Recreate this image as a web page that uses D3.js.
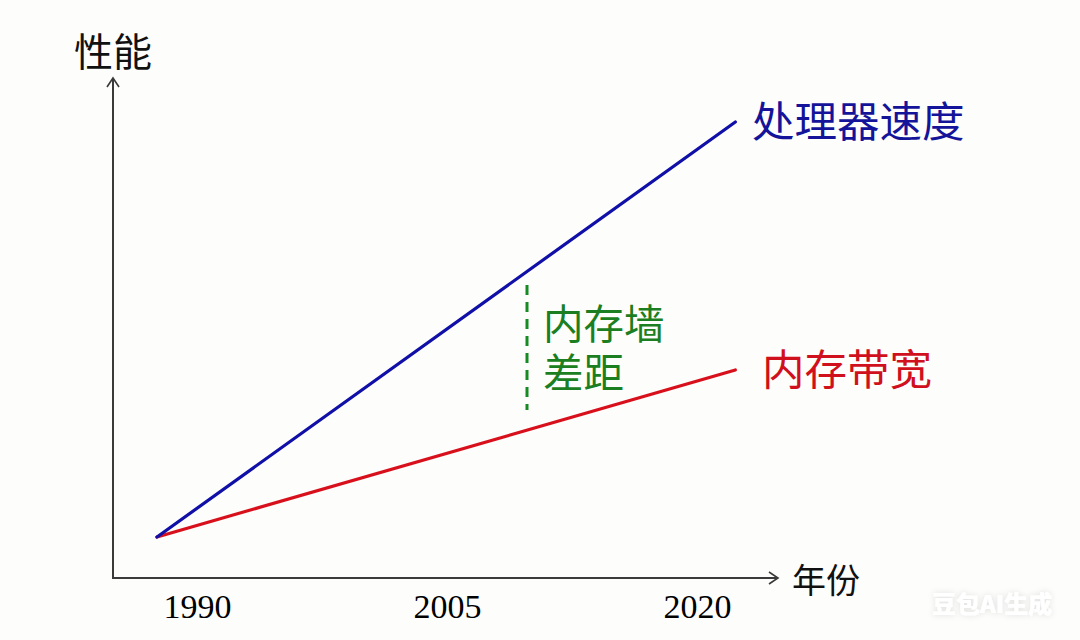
<!DOCTYPE html>
<html><head><meta charset="utf-8">
<script src="https://cdn.jsdelivr.net/npm/d3@7"></script>
<style>
html,body{margin:0;padding:0;background:#fdfdfb;}
svg{display:block;}
</style></head>
<body><svg id="c" width="1080" height="640"></svg>
<script>
// Data
const tickYears = [1990, 2005, 2020];
const tickLabels = ["1990", "2005", "2020"];
const lineYears = [1987.6, 2022.3];
const cpuSpeed = [8.2, 91.2];
const memBandwidth = [8.2, 41.6];
const gapYear = 2009.8;
const gapRange = [33.6, 58.6];
const seriesNames = ["处理器速度", "内存带宽"];
const gapLabel = ["内存墙", "差距"];
const axisTitles = {y: "性能", x: "年份"};

const svg = d3.select("#c");
const W = 1080, H = 640;
const x = d3.scaleLinear().domain([1990, 2020]).range([197, 697]);
const y = d3.scaleLinear().domain([0, 100]).range([578, 78]);
const x0 = 113, y0 = 578, xEnd = 778, yTop = 78;
const cjk = "'Noto Sans CJK SC', 'Noto Sans', sans-serif";

svg.append("rect").attr("width", W).attr("height", H).attr("fill", "#fdfdfb");

// Axes
const axisColor = "#3a3a3a";
svg.append("line").attr("x1", x0).attr("y1", y0).attr("x2", x0).attr("y2", yTop)
  .attr("stroke", axisColor).attr("stroke-width", 2);
svg.append("line").attr("x1", x0 - 1).attr("y1", y0).attr("x2", xEnd).attr("y2", y0)
  .attr("stroke", axisColor).attr("stroke-width", 2);
svg.append("path").attr("d", `M${x0-6},${yTop+9} L${x0},${yTop} L${x0+6},${yTop+9}`)
  .attr("fill", "none").attr("stroke", axisColor).attr("stroke-width", 1.6);
svg.append("path").attr("d", `M${xEnd-9},${y0-6} L${xEnd},${y0} L${xEnd-9},${y0+6}`)
  .attr("fill", "none").attr("stroke", axisColor).attr("stroke-width", 1.6);

// Tick labels
const xAxis = d3.axisBottom(x).tickValues(tickYears)
  .tickFormat((d, i) => tickLabels[i]).tickSize(0).tickPadding(0);
const gx = svg.append("g").attr("transform", `translate(0,${y0})`).call(xAxis);
gx.select(".domain").remove();
gx.selectAll("text").attr("font-family", "'Liberation Serif', 'DejaVu Serif', serif")
  .attr("font-size", 34).attr("fill", "#000").attr("dy", null).attr("y", 40);

// Axis titles
svg.append("text").attr("x", 113).attr("y", 66).attr("text-anchor", "middle")
  .attr("font-family", cjk).attr("font-size", 39).attr("fill", "#111").text(axisTitles.y);
svg.append("text").attr("x", 792).attr("y", 593)
  .attr("font-family", cjk).attr("font-size", 34).attr("fill", "#111").text(axisTitles.x);

// Lines
const line = d3.line().x((d, i) => x(lineYears[i])).y(d => y(d));
svg.append("path").datum(memBandwidth).attr("d", line).attr("fill", "none")
  .attr("stroke", "#d8101c").attr("stroke-width", 3.2).attr("stroke-linecap", "round");
svg.append("path").datum(cpuSpeed).attr("d", line).attr("fill", "none")
  .attr("stroke", "#1010a8").attr("stroke-width", 3.2).attr("stroke-linecap", "round");

// Series labels
svg.append("text").attr("x", 752).attr("y", y(cpuSpeed[1]) + 15)
  .attr("font-family", cjk).attr("font-size", 42.5).attr("fill", "#14149a").text(seriesNames[0]);
svg.append("text").attr("x", 762).attr("y", y(memBandwidth[1]) + 15)
  .attr("font-family", cjk).attr("font-size", 42.5).attr("fill", "#d0101c").text(seriesNames[1]);

// Gap marker
svg.append("line").attr("x1", x(gapYear)).attr("x2", x(gapYear))
  .attr("y1", y(gapRange[1])).attr("y2", y(gapRange[0]))
  .attr("stroke", "#178a24").attr("stroke-width", 3).attr("stroke-dasharray", "10,7");
const gt = svg.append("text").attr("x", 543).attr("y", 339)
  .attr("font-family", cjk).attr("font-size", 40.5).attr("fill", "#1b7f22");
gt.selectAll("tspan").data(gapLabel).join("tspan")
  .attr("x", 543).attr("dy", (d, i) => i === 0 ? 0 : 49).text(d => d);

// Watermark
const defs = svg.append("defs");
const f = defs.append("filter").attr("id", "sh").attr("x", "-20%").attr("y", "-50%").attr("width", "140%").attr("height", "200%");
f.append("feDropShadow").attr("dx", 0).attr("dy", 0).attr("stdDeviation", 3).attr("flood-color", "#000").attr("flood-opacity", 0.12);
svg.append("text").attr("x", 932).attr("y", 613).attr("filter", "url(#sh)")
  .attr("font-family", cjk).attr("font-weight", 900).attr("font-size", 24).attr("fill", "#ffffff").text("豆包AI生成");
</script></body></html>
